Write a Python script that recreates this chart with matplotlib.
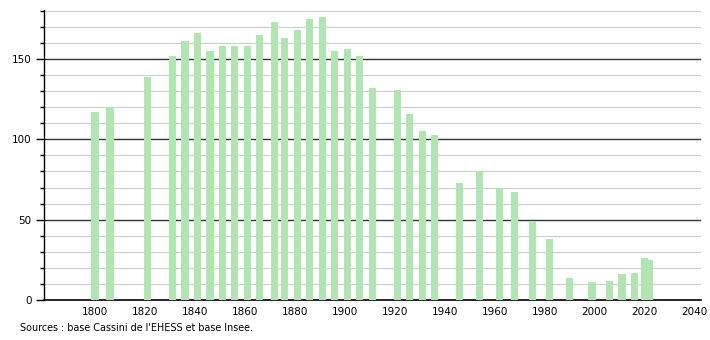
import numpy as np
import matplotlib.pyplot as plt

# population counts by census year
years = [1800, 1806, 1821, 1831, 1836, 1841, 1846, 1851, 1856, 1861, 1866,
         1872, 1876, 1881, 1886, 1891, 1896, 1901, 1906, 1911, 1921, 1926,
         1931, 1936, 1946, 1954, 1962, 1968, 1975, 1982, 1990, 1999, 2006,
         2011, 2016, 2020, 2022]
population = [117, 120, 139, 152, 161, 166, 155, 158, 158, 158, 165,
              173, 163, 168, 175, 176, 155, 156, 152, 132, 131, 116,
              105, 103, 73, 80, 70, 67, 49, 38, 14, 11, 12,
              16, 17, 26, 25]

x_ticks = list(range(1800, 2041, 20))
y_ticks = [0, 50, 100, 150]

fig = plt.figure(figsize=(7.1, 3.4), dpi=100)
ax = fig.add_axes([0.062, 0.1176, 0.925, 0.853])

ax.bar(years, population, width=2.9, color='#b0e4b0', zorder=3)

# light grid every 10, dark every 50
for v in range(10, 181, 10):
    if v % 50 == 0:
        ax.axhline(v, color='#333333', lw=1.0, zorder=1)
    else:
        ax.axhline(v, color='#cccccc', lw=0.8, zorder=1)

ax.set_xlim(1779.6, 2042.5)
ax.set_ylim(0, 180.5)
ax.set_xticks(x_ticks)
ax.set_yticks(y_ticks)
ax.set_yticks(range(0, 181, 10), minor=True)
ax.tick_params(axis='x', length=0, labelsize=7.5, pad=5)
ax.tick_params(axis='y', which='major', length=6, width=1, labelsize=7.5, pad=3)
ax.tick_params(axis='y', which='minor', length=3, width=1)

for s in ['top', 'right']:
    ax.spines[s].set_visible(False)
ax.spines['left'].set_linewidth(1.0)
ax.spines['bottom'].set_linewidth(1.2)

fig.text(0.028, 0.035, "Sources : base Cassini de l'EHESS et base Insee.",
         fontsize=6.9, ha='left', va='center')

fig.savefig('out.png', dpi=100)
